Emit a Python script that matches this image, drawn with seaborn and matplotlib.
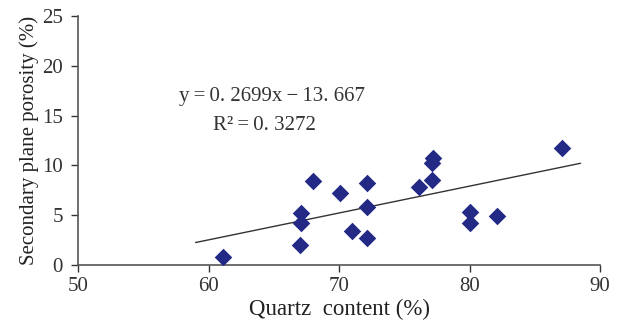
import matplotlib
matplotlib.use("Agg")
import matplotlib.pyplot as plt
import seaborn as sns
import numpy as np
import pandas as pd

quartz = [61.1, 67.0, 67.1, 67.1, 68.0, 70.1, 71.0, 72.1, 72.1, 72.1, 76.1, 77.1, 77.1, 77.2, 80.0, 80.0, 82.1, 87.1]
porosity = [0.8, 2.0, 4.25, 5.25, 8.4, 7.2, 3.45, 8.26, 5.8, 2.75, 7.8, 8.5, 10.2, 10.7, 5.35, 4.25, 4.95, 11.8]
fit_slope = 0.2699
fit_intercept = -13.667
fit_range = [59.0, 88.5]
x_ticks = [50, 60, 70, 80, 90]
y_ticks = [0, 5, 10, 15, 20, 25]
eq_text = "y\u2009=\u20090. 2699x\u2009\u2212\u200913. 667"
r2_text = "R\u00b2\u2009=\u20090. 3272"

sns.set_style("ticks")
plt.rcParams['font.family'] = ['Liberation Serif', 'DejaVu Serif']

df = pd.DataFrame({"quartz": quartz, "porosity": porosity})

fig = plt.figure(figsize=(6.2, 3.22), dpi=100)
ax = fig.add_axes([0.126, 0.177, 0.842, 0.773])

sns.scatterplot(data=df, x="quartz", y="porosity", marker="D", s=80,
                color="#232a86", edgecolor="#232a86", linewidth=0, ax=ax, zorder=3)

fx = np.array(fit_range)
ax.plot(fx, fit_slope * fx + fit_intercept, color="#333333", lw=1.0, zorder=2)

ax.text(57.7, 16.9, eq_text, fontsize=15, color="#333333", va="center", ha="left")
ax.text(60.3, 14.05, r2_text, fontsize=15, color="#333333", va="center", ha="left")

ax.set_xlim(50, 90)
ax.set_ylim(0, 25)
ax.set_xticks(x_ticks)
ax.set_yticks(y_ticks)
ax.tick_params(axis="both", labelsize=15, colors="#333333", length=5, width=1)
ax.tick_params(axis="y", pad=6)
ax.set_xlabel("Quartz  content (%)", fontsize=16.5, color="#222222", labelpad=2)
ax.set_ylabel("Secondary plane porosity (%)", fontsize=15, color="#222222", labelpad=2)
for s in ["top", "right"]:
    ax.spines[s].set_visible(False)
for s in ["left", "bottom"]:
    ax.spines[s].set_color("#555555")
    ax.spines[s].set_linewidth(1.2)

fig.savefig("out.png", dpi=100)
